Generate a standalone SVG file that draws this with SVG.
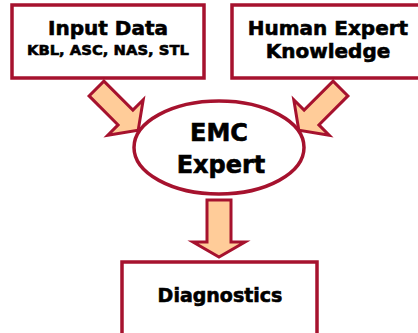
<svg xmlns="http://www.w3.org/2000/svg" width="418" height="333" viewBox="0 0 418 333">
<style>
.box{fill:#fff;stroke:#A6122E;stroke-width:3.5}
.arr{fill:#FFCC99;stroke:#A6122E;stroke-width:3;stroke-linejoin:miter}
text{font-family:"DejaVu Sans",sans-serif;font-weight:bold;fill:#000;stroke:#000;stroke-width:0.6;text-anchor:middle}
</style>
<rect width="418" height="333" fill="#fff"/>
<g id="connectors">
<polygon class="arr" points="103.9,81.1 132.9,110.1 143.2,99.8 138.2,130.2 107.8,135.2 118.1,124.9 89.1,95.9"/>
<polygon class="arr" points="333.1,81.1 304.1,110.1 293.8,99.8 298.8,130.2 329.2,135.2 318.9,124.9 347.9,95.9"/>
<polygon class="arr" points="207,200 231,200 231,242 245,242 219,257 193,242 207,242"/>
</g>
<g id="input-data">
<rect class="box" x="12" y="5" width="192" height="73"/>
<text x="108" y="35" font-size="20">Input Data</text>
<text x="108" y="55" font-size="14.8">KBL, ASC, NAS, STL</text>
</g>
<g id="human-expert">
<rect class="box" x="232" y="5" width="200" height="73"/>
<text x="328" y="35" font-size="20">Human Expert</text>
<text x="328" y="58" font-size="20">Knowledge</text>
</g>
<g id="emc-expert">
<ellipse class="box" cx="219" cy="147.5" rx="85" ry="46.5"/>
<text x="219" y="141" font-size="24">EMC</text>
<text x="221" y="173" font-size="24">Expert</text>
</g>
<g id="diagnostics">
<rect class="box" x="122" y="262" width="195" height="90"/>
<text x="220" y="302" font-size="19">Diagnostics</text>
</g>
</svg>
